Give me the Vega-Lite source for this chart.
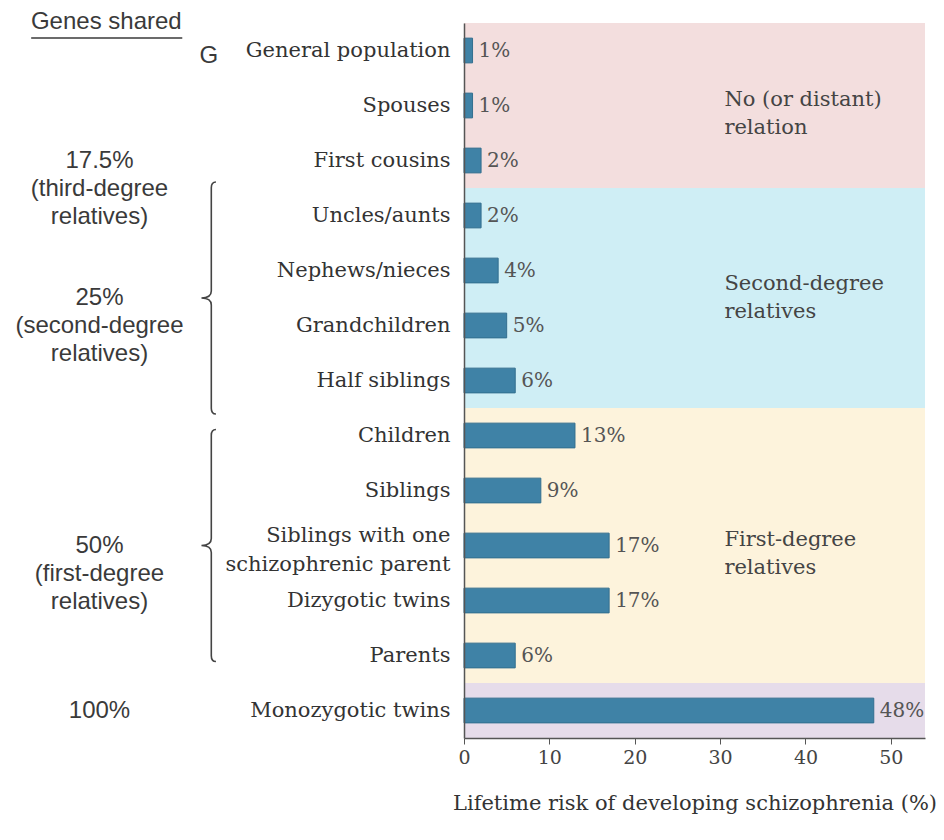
{
  "$schema": "https://vega.github.io/schema/vega-lite/v6.json",
  "width": 461,
  "height": 715,
  "autosize": {"type": "none"},
  "padding": {"left": 464, "top": 23, "right": 19, "bottom": 102},
  "background": "white",
  "config": {"view": {"stroke": null}, "font": "DejaVu Serif"},
  "datasets": {
    "risk": [
      {"relation": "General population", "risk": 1, "label": "1%", "group": "No relation"},
      {"relation": "Spouses", "risk": 1, "label": "1%", "group": "No relation"},
      {"relation": "First cousins", "risk": 2, "label": "2%", "group": "No relation"},
      {"relation": "Uncles/aunts", "risk": 2, "label": "2%", "group": "Second-degree"},
      {"relation": "Nephews/nieces", "risk": 4, "label": "4%", "group": "Second-degree"},
      {"relation": "Grandchildren", "risk": 5, "label": "5%", "group": "Second-degree"},
      {"relation": "Half siblings", "risk": 6, "label": "6%", "group": "Second-degree"},
      {"relation": "Children", "risk": 13, "label": "13%", "group": "First-degree"},
      {"relation": "Siblings", "risk": 9, "label": "9%", "group": "First-degree"},
      {"relation": "Siblings with one schizophrenic parent", "risk": 17, "label": "17%", "group": "First-degree"},
      {"relation": "Dizygotic twins", "risk": 17, "label": "17%", "group": "First-degree"},
      {"relation": "Parents", "risk": 6, "label": "6%", "group": "First-degree"},
      {"relation": "Monozygotic twins", "risk": 48, "label": "48%", "group": "Monozygotic"}
    ]
  },
  "data": {"name": "risk"},
  "encoding": {
    "y": {
      "field": "relation",
      "type": "nominal",
      "sort": null,
      "scale": {
        "domain": ["General population", "Spouses", "First cousins", "Uncles/aunts", "Nephews/nieces", "Grandchildren", "Half siblings", "Children", "Siblings", "Siblings with one schizophrenic parent", "Dizygotic twins", "Parents", "Monozygotic twins"],
        "paddingInner": 0,
        "paddingOuter": 0
      },
      "axis": {
        "title": null,
        "ticks": false,
        "labelPadding": 14,
        "labelFont": "DejaVu Serif",
        "labelFontSize": 21,
        "labelColor": "#333333",
        "labelLimit": 0,
        "labelLineHeight": 29,
        "labelOffset": {"condition": {"test": "datum.value == 'Siblings with one schizophrenic parent'", "value": -10}, "value": 0},
        "labelExpr": "datum.label == 'Siblings with one schizophrenic parent' ? ['Siblings with one', 'schizophrenic parent'] : datum.label",
        "domainColor": "#555555",
        "domainWidth": 1.5,
        "zindex": 1
      }
    },
    "x": {
      "type": "quantitative",
      "scale": {"domain": [0, 54], "nice": false},
      "axis": {
        "values": [0, 10, 20, 30, 40, 50],
        "title": "Lifetime risk of developing schizophrenia (%)",
        "titleFont": "DejaVu Serif",
        "titleFontSize": 21,
        "titleFontWeight": "normal",
        "titleColor": "#333333",
        "titlePadding": 25,
        "labelFont": "DejaVu Serif",
        "labelFontSize": 19,
        "labelColor": "#444444",
        "labelPadding": 4,
        "labelFlush": false,
        "tickSize": 6,
        "tickColor": "#555555",
        "domainColor": "#555555",
        "domainWidth": 1.5,
        "grid": false,
        "zindex": 1
      }
    }
  },
  "layer": [
    {
      "mark": {"type": "bar", "height": {"band": 1}},
      "encoding": {
        "x": {"datum": 54},
        "color": {
          "field": "group",
          "type": "nominal",
          "scale": {
            "domain": ["No relation", "Second-degree", "First-degree", "Monozygotic"],
            "range": ["#f3dede", "#cfeef5", "#fdf3dc", "#e6dcea"]
          },
          "legend": null
        }
      }
    },
    {
      "mark": {"type": "bar", "height": {"band": 0.45}, "color": "#3f82a6", "stroke": "#336f8f", "strokeWidth": 1},
      "encoding": {"x": {"field": "risk"}}
    },
    {
      "mark": {"type": "text", "align": "left", "baseline": "middle", "dx": 6, "font": "DejaVu Serif", "fontSize": 20, "color": "#555555"},
      "encoding": {
        "x": {"field": "risk"},
        "text": {"field": "label"}
      }
    },
    {
      "data": {"values": [
        {"anchor": "Spouses", "note": "No (or distant)\nrelation"},
        {"anchor": "Siblings with one schizophrenic parent", "note": "First-degree\nrelatives"}
      ]},
      "mark": {"type": "text", "align": "left", "baseline": "middle", "lineBreak": "\n", "lineHeight": 28, "font": "DejaVu Serif", "fontSize": 21, "color": "#444444"},
      "encoding": {
        "x": {"datum": 30.5},
        "y": {"field": "anchor", "bandPosition": 0.4},
        "text": {"field": "note"}
      }
    },
    {
      "data": {"values": [
        {"anchor": "Nephews/nieces", "note": "Second-degree\nrelatives"}
      ]},
      "mark": {"type": "text", "align": "left", "baseline": "middle", "lineBreak": "\n", "lineHeight": 28, "font": "DejaVu Serif", "fontSize": 21, "color": "#444444"},
      "encoding": {
        "x": {"datum": 30.5},
        "y": {"field": "anchor", "bandPosition": 0.75},
        "text": {"field": "note"}
      }
    },
    {
      "data": {"values": [
        {"anchor": "First cousins", "note": "17.5%\n(third-degree\nrelatives)"},
        {"anchor": "Siblings with one schizophrenic parent", "note": "50%\n(first-degree\nrelatives)"},
        {"anchor": "Monozygotic twins", "note": "100%"}
      ]},
      "mark": {"type": "text", "align": "center", "baseline": "middle", "lineBreak": "\n", "lineHeight": 28, "font": "Liberation Sans", "fontSize": 24, "color": "#3a3a3a"},
      "encoding": {
        "x": {"datum": -42.7},
        "y": {"field": "anchor", "bandPosition": 0.5},
        "text": {"field": "note"}
      }
    },
    {
      "data": {"values": [
        {"anchor": "Nephews/nieces", "note": "25%\n(second-degree\nrelatives)"}
      ]},
      "mark": {"type": "text", "align": "center", "baseline": "middle", "lineBreak": "\n", "lineHeight": 28, "font": "Liberation Sans", "fontSize": 24, "color": "#3a3a3a"},
      "encoding": {
        "x": {"datum": -42.7},
        "y": {"field": "anchor", "bandPosition": 1},
        "text": {"field": "note"}
      }
    },
    {
      "data": {"values": [{"anchor": "General population", "note": "Genes shared"}]},
      "mark": {"type": "text", "align": "center", "baseline": "middle", "dy": -1, "font": "Liberation Sans", "fontSize": 24, "color": "#3a3a3a"},
      "encoding": {
        "x": {"datum": -41.9},
        "y": {"field": "anchor", "bandPosition": 0},
        "text": {"field": "note"}
      }
    },
    {
      "data": {"values": [{"anchor": "General population"}]},
      "mark": {"type": "rule", "yOffset": 15, "color": "#3a3a3a", "strokeWidth": 1.5},
      "encoding": {
        "x": {"datum": -50.7},
        "x2": {"datum": -33.0},
        "y": {"field": "anchor", "bandPosition": 0}
      }
    },
    {
      "data": {"values": [{"anchor": "General population", "note": "G"}]},
      "mark": {"type": "text", "align": "center", "baseline": "middle", "font": "Liberation Sans", "fontSize": 24, "color": "#3a3a3a"},
      "encoding": {
        "x": {"datum": -29.9},
        "y": {"field": "anchor", "bandPosition": 0.6},
        "text": {"field": "note"}
      }
    },
    {
      "data": {"values": [{"anchor": "Nephews/nieces"}]},
      "mark": {"type": "point", "filled": false, "size": 53824, "stroke": "#444444", "strokeWidth": 1.6, "opacity": 1,
        "shape": "M 0.04 -1 Q 0 -1 0 -0.95 L 0 -0.06 Q 0 0 -0.085 0 Q 0 0 0 0.06 L 0 0.95 Q 0 1 0.04 1"},
      "encoding": {
        "x": {"datum": -29.6},
        "y": {"field": "anchor", "bandPosition": 1}
      }
    },
    {
      "data": {"values": [{"anchor": "Siblings with one schizophrenic parent"}]},
      "mark": {"type": "point", "filled": false, "size": 53824, "stroke": "#444444", "strokeWidth": 1.6, "opacity": 1,
        "shape": "M 0.04 -1 Q 0 -1 0 -0.95 L 0 -0.06 Q 0 0 -0.085 0 Q 0 0 0 0.06 L 0 0.95 Q 0 1 0.04 1"},
      "encoding": {
        "x": {"datum": -29.6},
        "y": {"field": "anchor", "bandPosition": 0.5}
      }
    }
  ]
}
